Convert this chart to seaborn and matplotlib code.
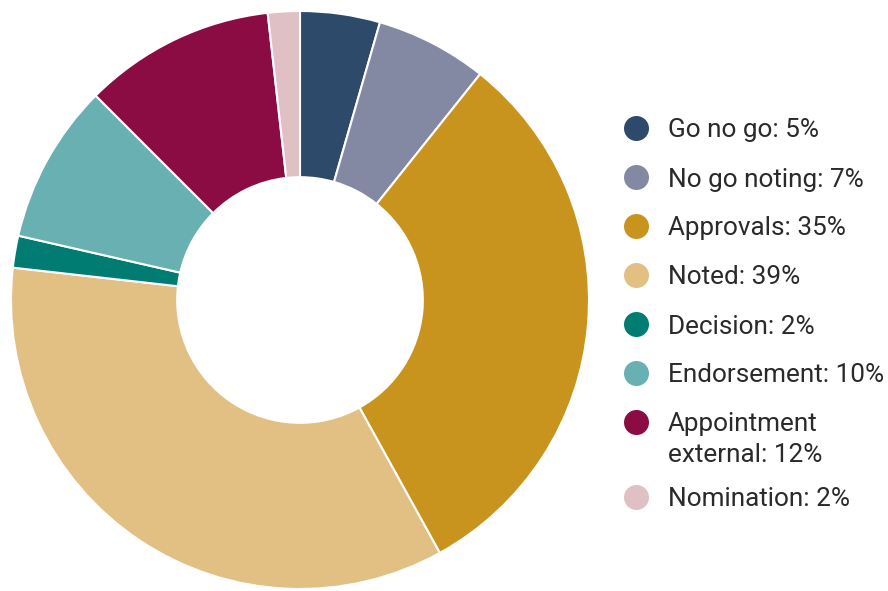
import matplotlib
matplotlib.use("Agg")
import matplotlib.pyplot as plt
import seaborn as sns

sns.set_theme(style="white")
plt.rcParams['font.family'] = ['Roboto', 'DejaVu Sans']

categories = ["Go no go", "No go noting", "Approvals", "Noted", "Decision",
              "Endorsement", "Appointment\nexternal", "Nomination"]
values = [5, 7, 35, 39, 2, 10, 12, 2]
colors = ["#2E4A6B", "#8489A3", "#C9941E", "#E2C084", "#007C73",
          "#69B0B2", "#8B0B43", "#DFC0C5"]

W, H = 888, 591
fig = plt.figure(figsize=(W / 100, H / 100), dpi=100)
fig.patch.set_facecolor("white")

# donut
cx, cy, R = 300, 300, 289
ax = fig.add_axes([(cx - R) / W, (H - cy - R) / H, 2 * R / W, 2 * R / H])
ax.pie(values, colors=colors, startangle=90, counterclock=False, radius=1,
       wedgeprops=dict(width=0.575, edgecolor="white", linewidth=1.5))
ax.set_xlim(-1, 1)
ax.set_ylim(-1, 1)
ax.set_aspect("equal")
ax.axis("off")

# legend (pixel-coordinate overlay)
lax = fig.add_axes([0, 0, 1, 1])
lax.set_xlim(0, W)
lax.set_ylim(H, 0)
lax.axis("off")
lax.patch.set_alpha(0)

fs = 18.8
tcol = "#2a2a2a"
y = 128
for cat, val, col in zip(categories, values, colors):
    lax.scatter([636], [y], s=18 ** 2, color=col, marker="o", linewidths=0)
    lines = f"{cat}: {val}%".split("\n")
    for k, line in enumerate(lines):
        lax.text(668, y + 31 * k, line, fontsize=fs, color=tcol,
                 va="center_baseline", ha="left")
    y += 49 + 26 * (len(lines) - 1)

fig.savefig("out.png", dpi=100, facecolor="white")
